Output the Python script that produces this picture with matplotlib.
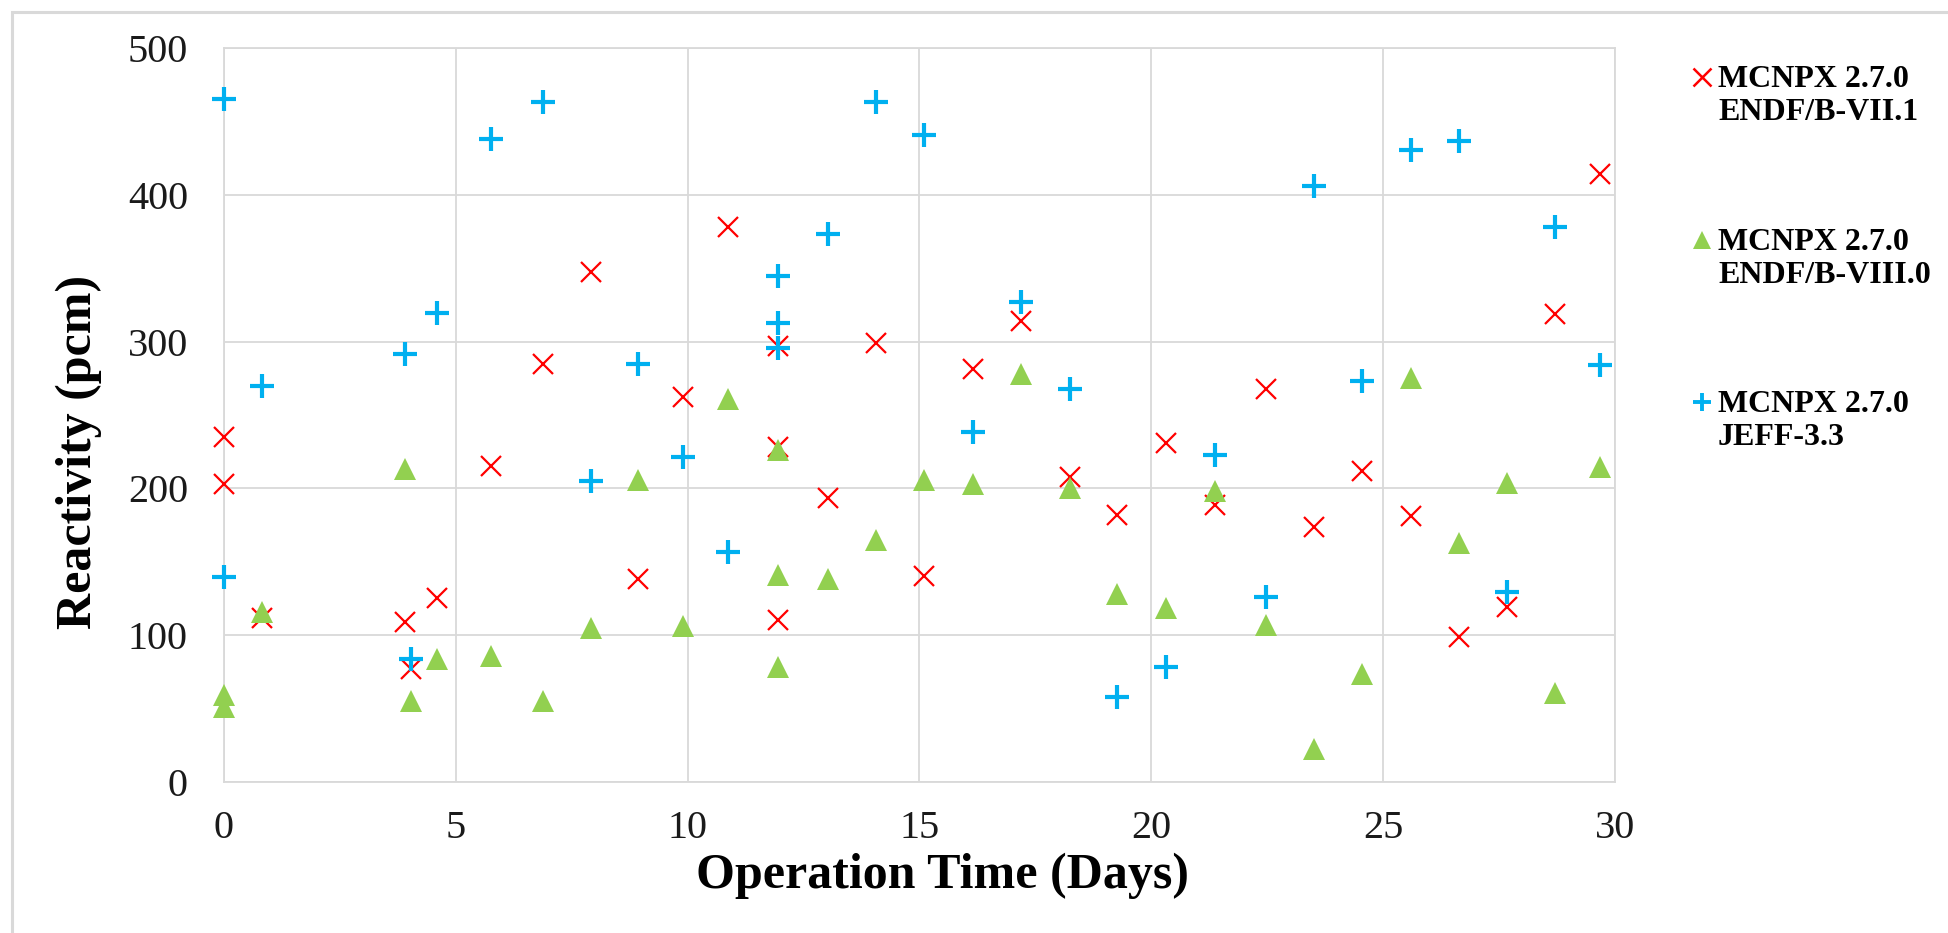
import matplotlib

matplotlib.use('agg')
import matplotlib.pyplot as plt
from matplotlib.lines import Line2D
from matplotlib.patches import Rectangle

# operation time (days), shared by the three series
days = [0, 0, 0.81, 3.91, 4.03, 4.59, 5.75, 6.88, 7.91, 8.93, 9.9, 10.88,
        11.94, 11.94, 11.94, 13.02, 14.06, 15.1, 16.15, 17.19, 18.24, 19.27,
        20.32, 21.38, 22.47, 23.5, 24.54, 25.59, 26.63, 27.67, 28.7, 29.68]

# reactivity (pcm)
endf71 = [235, 203, 112, 109, 77, 125.5, 215.5, 285, 347.5, 138.5, 262, 378,
          297, 228, 110.5, 193.5, 299, 140.5, 281, 314, 208, 182,
          231, 189, 268, 174, 212, 181, 98.5, 119.5, 319, 414.5]
endf80 = [59, 51, 116, 213, 55, 84, 86, 55, 105, 206, 106, 261,
          226, 141, 78.5, 138, 165, 206, 203, 278, 200, 128,
          118.5, 198, 107, 22.5, 73.5, 275, 163, 203.5, 60.5, 214.5]
jeff33 = [465, 139.5, 270, 291.5, 84, 319.5, 438, 463, 205, 285, 221.5, 156.5,
          345, 313, 295.5, 373, 463, 441, 238.5, 327, 267.5, 58,
          78, 223, 126, 406, 273.5, 430.5, 436.5, 129.5, 378, 284]

labels = ['MCNPX 2.7.0\nENDF/B-VII.1', 'MCNPX 2.7.0\nENDF/B-VIII.0', 'MCNPX 2.7.0\nJEFF-3.3']
x_ticks = [0, 5, 10, 15, 20, 25, 30]
y_ticks = [0, 100, 200, 300, 400, 500]

RED = '#FF0000'
GREEN = '#92D050'
BLUE = '#00B0F0'
GRID = '#D9D9D9'
SERIF = 'Liberation Serif'

W, H = 1949, 933
fig = plt.figure(figsize=(W / 100, H / 100), dpi=100)
fig.patch.set_facecolor('white')

# outer chart border (cropped on the right/bottom in the original)
fig.add_artist(Rectangle((12 / W, -0.02), 1.05, 1 - 12 / H + 0.02, transform=fig.transFigure,
                         fill=False, edgecolor=GRID, linewidth=2.2))

left, right, top, bottom = 224, 1615, 48, 782
ax = fig.add_axes([left / W, 1 - bottom / H, (right - left) / W, (bottom - top) / H])

ax.plot(days, endf71, linestyle='none', marker='x', markersize=15, markeredgewidth=1.6,
        color=RED, zorder=3, clip_on=False)
ax.plot(days, endf80, linestyle='none', marker='^', markersize=15.5, markeredgewidth=0,
        color=GREEN, zorder=4, clip_on=False)
ax.plot(days, jeff33, linestyle='none', marker='+', markersize=17, markeredgewidth=3,
        color=BLUE, zorder=5, clip_on=False)

ax.set_xlim(0, 30)
ax.set_ylim(0, 500)
ax.set_xticks(x_ticks)
ax.set_yticks(y_ticks)
ax.grid(True, color=GRID, linewidth=1.3)
ax.set_axisbelow(True)
for sp in ax.spines.values():
    sp.set_color(GRID)
    sp.set_linewidth(1.3)
ax.tick_params(axis='both', length=0, labelsize=29, labelcolor='#1a1a1a')
ax.tick_params(axis='y', pad=26)
ax.tick_params(axis='x', pad=20)
for lab in ax.get_xticklabels() + ax.get_yticklabels():
    lab.set_fontfamily(SERIF)

fig.text(943 / W, 1 - 888 / H, 'Operation Time (Days)', ha='center', va='baseline',
         fontsize=36, fontweight='bold', family=SERIF)
fig.text(79 / W, 1 - 452 / H, 'Reactivity (pcm)', ha='center', va='center', rotation=90,
         fontsize=36, fontweight='bold', family=SERIF)

# legend, marker aligned with the first line of each label
styles = [dict(marker='x', markersize=13, markeredgewidth=1.8, color=RED),
          dict(marker='^', markersize=13.5, markeredgewidth=0, color=GREEN),
          dict(marker='+', markersize=13.5, markeredgewidth=2.8, color=BLUE)]
baselines = [87, 250, 412]
for lab, st, base in zip(labels, styles, baselines):
    my = 1 - (base - 10) / H
    fig.add_artist(Line2D([1702 / W], [my], linestyle='none', transform=fig.transFigure, **st))
    fig.text(1718 / W, 1 - (base - 22) / H, lab, ha='left', va='top', fontsize=23,
             fontweight='bold', family=SERIF, linespacing=1.2)

fig.savefig('out.png', dpi=100, facecolor='white')
